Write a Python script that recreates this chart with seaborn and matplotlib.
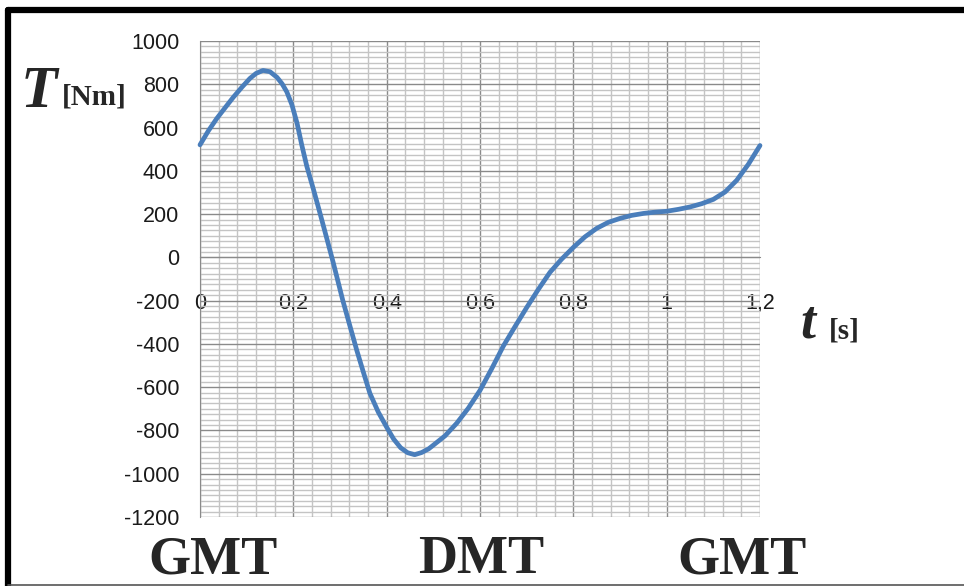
import numpy as np
import pandas as pd
import matplotlib
matplotlib.use("Agg")
import matplotlib.pyplot as plt
import seaborn as sns
from matplotlib.ticker import MultipleLocator, FixedLocator, FixedFormatter
from matplotlib.lines import Line2D

# ------------------------------------------------------------
# Donnees : couple T [Nm] en fonction de t [s]
# ------------------------------------------------------------
t_s = [0.0, 0.018, 0.036, 0.055, 0.071, 0.09, 0.107, 0.12, 0.135, 0.15,
       0.165, 0.176, 0.186, 0.197, 0.208, 0.218, 0.229, 0.243, 0.257, 0.271,
       0.285, 0.306, 0.321, 0.336, 0.35, 0.364, 0.382, 0.40, 0.415, 0.43,
       0.445, 0.46, 0.475, 0.49, 0.50, 0.525, 0.55, 0.575, 0.60, 0.625,
       0.65, 0.675, 0.70, 0.725, 0.75, 0.775, 0.80, 0.825, 0.85, 0.875,
       0.90, 0.925, 0.95, 0.975, 1.0, 1.025, 1.05, 1.075, 1.10, 1.125,
       1.15, 1.175, 1.2]
torque_nm = [520, 585, 642, 695, 739, 787, 827, 850, 864, 858,
             832, 802, 765, 705, 620, 520, 420, 315, 205, 93,
             -20, -199, -315, -430, -530, -628, -715, -785, -840, -880,
             -903, -912, -902, -885, -868, -825, -767, -697, -615, -515,
             -410, -320, -232, -148, -69, -8, 46, 95, 134, 162,
             180, 194, 203, 209, 213, 222, 233, 248, 268, 302,
             356, 430, 517]

x_ticks = [0, 0.2, 0.4, 0.6, 0.8, 1.0, 1.2]
x_tick_labels = ["0", "0,2", "0,4", "0,6", "0,8", "1", "1,2"]
y_ticks = list(range(-1200, 1001, 200))
phase_labels = ["GMT", "DMT", "GMT"]

df = pd.DataFrame({"t": t_s, "T": torque_nm})

sns.set_style("white")
plt.rcParams["axes.unicode_minus"] = False
plt.rcParams["font.family"] = ["Liberation Sans", "DejaVu Sans"]

W, H = 964, 586
fig = plt.figure(figsize=(W / 100, H / 100), dpi=100)
ax = fig.add_axes([200 / W, 1 - 517 / H, 560 / W, 476 / H])

# grille type papier millimetre
ax.xaxis.set_minor_locator(MultipleLocator(0.04))
ax.yaxis.set_minor_locator(MultipleLocator(25))
ax.grid(which="minor", color="#c4c4c4", lw=1.0, zorder=0)
ax.grid(which="major", color="#8a8a8a", lw=1.0, zorder=0)
ax.set_axisbelow(True)

sns.lineplot(data=df, x="t", y="T", ax=ax, color="#4a7ebb", lw=3.4,
             zorder=3, clip_on=False)

ax.set_xlim(0, 1.2)
ax.set_ylim(-1200, 1000)
ax.set_xlabel("")
ax.set_ylabel("")

ax.yaxis.set_major_locator(FixedLocator(y_ticks))
ax.xaxis.set_major_locator(FixedLocator(x_ticks))
ax.xaxis.set_major_formatter(FixedFormatter(x_tick_labels))

for s in ["top", "right"]:
    ax.spines[s].set_visible(False)
ax.spines["bottom"].set_position(("data", 0))
ax.spines["bottom"].set_color("#8a8a8a")
ax.spines["left"].set_color("#8a8a8a")

ax.tick_params(axis="y", which="major", direction="out", length=6,
               color="#8a8a8a", width=1, pad=9, labelsize=15.5,
               labelcolor="#1a1a1a")
ax.tick_params(axis="y", which="minor", length=0)
ax.tick_params(axis="x", which="both", length=0, pad=26,
               labelsize=15.5, labelcolor="#1a1a1a")

# etiquettes d'axes facon Word/Excel
serif = ["Liberation Serif", "DejaVu Serif"]
def ftxt(x, y, s, **kw):
    fig.text(x / W, 1 - y / H, s, family=serif, weight="bold", **kw)

ftxt(21, 107, "T", style="italic", fontsize=43, va="baseline", ha="left")
ftxt(62, 105, "[Nm]", fontsize=21, va="baseline", ha="left")
ftxt(800, 337, "t", style="italic", fontsize=39, va="baseline", ha="left")
ftxt(829, 339, "[s]", fontsize=21, va="baseline", ha="left")
for cx, lab in zip([213, 481, 742], phase_labels):
    ftxt(cx, 573, lab, fontsize=39, va="baseline", ha="center")

# cadre exterieur
fig.add_artist(Line2D([8 / W, 8 / W], [1 - 10 / H, 0], transform=fig.transFigure,
                      color="black", lw=4.5))
fig.add_artist(Line2D([8 / W, 1], [1 - 10 / H, 1 - 10 / H], transform=fig.transFigure,
                      color="black", lw=4.5))
fig.add_artist(Line2D([8 / W, 1], [1 - 585 / H, 1 - 585 / H], transform=fig.transFigure,
                      color="#555555", lw=1.2))

fig.savefig("out.png", dpi=100)
